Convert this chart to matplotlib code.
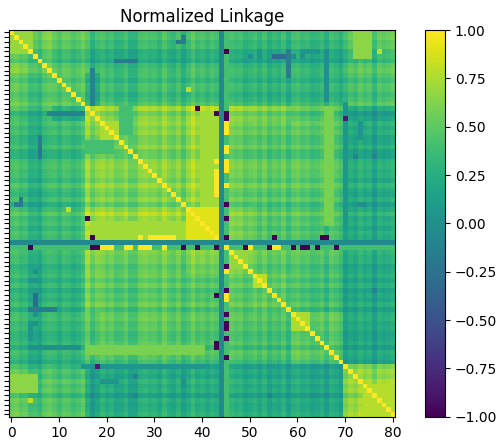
import numpy as np
import matplotlib
matplotlib.use("Agg")
import matplotlib.pyplot as plt

n = 81

# --- DATA ---
# clusters along the diagonal (first, last index); 44 and 45 are special rows
group_first = [0, 9, 16, 19, 37, 46, 51, 59, 70]
group_last = [8, 15, 18, 36, 43, 50, 58, 69, 80]

# typical level between two clusters
block_levels = [
    [0.55, 0.45, 0.35, 0.32, 0.35, 0.30, 0.30, 0.30, 0.45],
    [0.45, 0.45, 0.20, 0.35, 0.35, 0.30, 0.30, 0.30, 0.40],
    [0.35, 0.20, 0.75, 0.62, 0.70, 0.62, 0.58, 0.45, 0.15],
    [0.32, 0.35, 0.62, 0.58, 0.65, 0.50, 0.48, 0.45, 0.20],
    [0.35, 0.35, 0.70, 0.65, 0.82, 0.55, 0.45, 0.42, 0.20],
    [0.30, 0.30, 0.62, 0.50, 0.55, 0.58, 0.48, 0.42, 0.20],
    [0.30, 0.30, 0.58, 0.48, 0.45, 0.48, 0.52, 0.42, 0.20],
    [0.30, 0.30, 0.45, 0.45, 0.42, 0.42, 0.42, 0.48, 0.18],
    [0.45, 0.40, 0.15, 0.20, 0.20, 0.20, 0.20, 0.18, 0.65],
]

# lighter / darker lines of each row and column
line_shift = [
    0.05, 0.08, 0.00, 0.03, -0.10, -0.08, -0.15, 0.00, 0.05, 0.03,
    -0.05, 0.05, 0.03, -0.05, 0.00, 0.08, 0.08, -0.10, 0.00, 0.08,
    0.00, 0.05, -0.05, -0.03, 0.05, -0.08, -0.08, 0.05, 0.08, 0.03,
    0.05, -0.03, 0.10, 0.00, -0.05, 0.05, -0.10, 0.00, 0.12, 0.00,
    0.05, -0.03, 0.05, 0.00, 0.00, 0.00, 0.08, 0.03, 0.05, -0.05,
    0.00, 0.05, -0.05, 0.05, -0.08, 0.00, -0.05, 0.05, -0.10, 0.05,
    0.08, 0.00, 0.03, -0.05, -0.03, 0.03, -0.10, 0.05, 0.00, -0.08,
    -0.08, 0.03, -0.03, 0.08, 0.00, 0.05, -0.10, 0.05, 0.00, 0.03,
    0.08,
]

# rectangular patches (row from, row to, col from, col to, level)
patches = [
    (0, 4, 0, 4, 0.68),
    (19, 22, 19, 22, 0.75),
    (37, 43, 37, 43, 0.90),
    (40, 43, 17, 36, 0.72),
    (46, 49, 46, 49, 0.68),
    (51, 53, 51, 53, 0.80),
    (59, 62, 59, 62, 0.75),
    (74, 80, 74, 80, 0.78),
    (66, 67, 16, 40, 0.60),
    (72, 75, 0, 5, 0.65),
    (0, 5, 73, 73, 0.65),
    (23, 25, 16, 21, 0.40),
    (4, 14, 66, 66, 0.00),
    (15, 40, 70, 70, 0.05),
    (55, 57, 5, 5, -0.30),
    (58, 58, 4, 9, -0.15),
    (17, 17, 8, 15, -0.10),
    (22, 26, 6, 6, -0.15),
    (6, 6, 22, 23, -0.15),
    (6, 6, 25, 26, -0.20),
    (36, 36, 1, 2, -0.15),
    (4, 5, 52, 52, 0.05),
    (4, 4, 61, 64, 0.05),
    (73, 73, 19, 22, 0.05),
    (73, 74, 36, 36, 0.00),
]

# single cells
cells = [
    (2, 35, -0.20), (37, 12, 0.80), (12, 37, 0.80), (4, 77, 0.80),
    (5, 50, 0.00), (5, 59, 0.00), (5, 61, 0.00), (26, 72, -0.10),
    (26, 76, -0.10), (54, 76, -0.10),
    (16, 39, -1.0), (17, 43, -1.0), (43, 55, -1.0), (43, 65, -1.0),
    (43, 66, -1.0), (18, 70, -0.85),
    (43, 27, 1.0), (43, 29, 1.0), (43, 30, 1.0), (43, 31, 1.0),
    (43, 32, 1.0), (43, 33, 1.0), (43, 34, 1.0),
]

flat_level = -0.05          # row / column 44
row45_level = 0.40
row45_low = [4, 17, 18, 36, 39, 43, 49, 54, 59, 61, 62, 64, 68]
row45_high = [19, 20, 21, 24, 25, 27, 28, 29, 32, 50, 55, 56]

# --- BUILD MATRIX ---
group_of = np.full(n, -1)
for g, (a, b) in enumerate(zip(group_first, group_last)):
    group_of[a:b + 1] = g

M = np.zeros((n, n))
for i in range(n):
    for j in range(n):
        gi, gj = group_of[i], group_of[j]
        if gi >= 0 and gj >= 0:
            M[i, j] = block_levels[gi][gj] + line_shift[i] + line_shift[j]

for r0, r1, c0, c1, v in patches:
    M[r0:r1 + 1, c0:c1 + 1] = v
    M[c0:c1 + 1, r0:r1 + 1] = v
for r, c, v in cells:
    M[r, c] = v
    M[c, r] = v

M[45, :] = row45_level
M[:, 45] = row45_level
M[45, row45_low] = -1.0
M[row45_low, 45] = -1.0
M[45, row45_high] = 1.0
M[row45_high, 45] = 1.0

np.fill_diagonal(M, 1.0)
M[44, :] = flat_level
M[:, 44] = flat_level
M = np.clip(M, -1, 1)

# --- PLOT ---
fig = plt.figure(figsize=(5.0, 4.43), dpi=100)
ax = fig.add_axes([8.6 / 500, 26.3 / 443, 386.8 / 500, 386.7 / 443])
cax = fig.add_axes([425 / 500, 26.3 / 443, 20 / 500, 386.7 / 443])

im = ax.imshow(M, cmap="viridis", vmin=-1, vmax=1, interpolation="nearest")
ax.set_title("Normalized Linkage")
ax.set_xticks(range(0, n, 10))
ax.set_yticks(range(n))
ax.set_yticklabels([])

fig.colorbar(im, cax=cax)

plt.savefig("out.png", dpi=100)
